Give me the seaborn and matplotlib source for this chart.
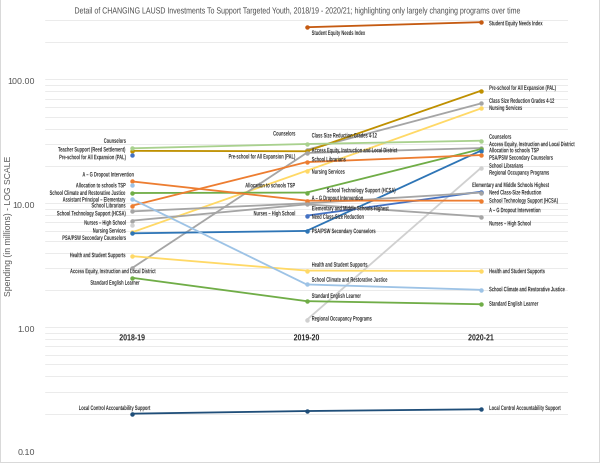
import numpy as np
import pandas as pd
import seaborn as sns
import matplotlib
matplotlib.use("Agg")
import matplotlib.pyplot as plt
from matplotlib.patheffects import AbstractPathEffect
from matplotlib.transforms import Affine2D
from matplotlib.ticker import LogLocator, FormatStrFormatter, NullFormatter

nan = np.nan
years = ["2018-19", "2019-20", "2020-21"]

# spending in $ millions
seni = [nan, 264, 290]
class_size = [nan, 27.0, 64.0]
pal = [26.5, 26.3, 81.0]
nursing = [5.83, 18.3, 58.3]
counselors = [27.8, 30.1, 32.0]
access_equity = [3.0, 25.5, 27.9]
tsp = [12.1, 12.2, 27.4]
psa_psw = [5.72, 5.98, 26.6]
librarians = [9.57, 21.5, 24.5]
rop = [nan, 1.14, 19.3]
elem_class_size = [nan, 7.94, 12.4]
tech_support = [8.6, 10.0, 12.2]
a_g = [15.0, 10.5, 10.5]
nurses_hs = [7.24, 9.8, 7.8]
health = [3.74, 2.86, 2.83]
climate = [10.8, 2.21, 2.0]
sel = [2.50, 1.62, 1.53]
lcas = [0.20, 0.21, 0.217]
teacher_support = [24.5, nan, nan]
tsp_dot = [14.1, nan, nan]
nurses_dot = [6.72, nan, nan]

series = {
    "Student Equity Needs Index": seni,
    "Class Size Reduction Grades 4-12": class_size,
    "Pre-school for All Expansion (PAL)": pal,
    "Nursing Services": nursing,
    "Counselors": counselors,
    "Access Equity, Instruction and Local District": access_equity,
    "Allocation to schools TSP": tsp,
    "PSA/PSW Secondary Counselors": psa_psw,
    "School Librarians": librarians,
    "Regional Occupancy Programs": rop,
    "Elementary and Middle Schools Highest Need Class-Size Reduction": elem_class_size,
    "School Technology Support (HCSA)": tech_support,
    "A – G Dropout Intervention": a_g,
    "Nurses – High School": nurses_hs,
    "Health and Student Supports": health,
    "School Climate and Restorative Justice": climate,
    "Standard English Learner": sel,
    "Local Control Accountability Support": lcas,
    "Teacher Support (Reed Settlement)": teacher_support,
    "TSP dot": tsp_dot,
    "Nurses dot": nurses_dot,
}

colors = {
    "Student Equity Needs Index": "#C55A11",
    "Class Size Reduction Grades 4-12": "#A5A5A5",
    "Pre-school for All Expansion (PAL)": "#BF9000",
    "Nursing Services": "#FFD966",
    "Counselors": "#A9D18E",
    "Access Equity, Instruction and Local District": "#A5A5A5",
    "Allocation to schools TSP": "#70AD47",
    "PSA/PSW Secondary Counselors": "#2E75B6",
    "School Librarians": "#ED7D31",
    "Regional Occupancy Programs": "#D0D0D0",
    "Elementary and Middle Schools Highest Need Class-Size Reduction": "#4472C4",
    "School Technology Support (HCSA)": "#A5A5A5",
    "A – G Dropout Intervention": "#ED7D31",
    "Nurses – High School": "#A5A5A5",
    "Health and Student Supports": "#FFD966",
    "School Climate and Restorative Justice": "#9DC3E6",
    "Standard English Learner": "#70AD47",
    "Local Control Accountability Support": "#1F4E79",
    "Teacher Support (Reed Settlement)": "#4472C4",
    "TSP dot": "#9DC3E6",
    "Nurses dot": "#D0D0D0",
}

# data labels per year column: (text, value where the label sits)
labels_1819 = [
    ("Counselors", 31.6), ("Teacher Support (Reed Settlement)", 26.9),
    ("Pre-school for All Expansion (PAL)", 23.3), ("A – G Dropout Intervention", 16.9),
    ("Allocation to schools TSP", 13.8), ("School Climate and Restorative Justice", 12.0),
    ("Assistant Principal – Elementary", 10.6), ("School Librarians", 9.5),
    ("School Technology Support (HCSA)", 8.2), ("Nurses – High School", 6.9),
    ("Nursing Services", 5.95), ("PSA/PSW Secondary Counselors", 5.2),
    ("Health and Student Supports", 3.77),
    ("Access Equity, Instruction and Local District", 2.8),
    ("Standard English Learner", 2.26), ("Local Control Accountability Support", 0.22),
]
labels_1920_left = [
    ("Counselors", 36.2), ("Pre-school for All Expansion (PAL)", 23.6),
    ("Allocation to schools TSP", 13.8), ("Nurses – High School", 8.2),
]
labels_1920_right = [
    ("Student Equity Needs Index", 235), ("Class Size Reduction Grades 4-12", 34.9),
    ("Access Equity, Instruction and Local District", 26.5), ("School Librarians", 22.4),
    ("Nursing Services", 17.8), ("School Technology Support (HCSA)", 12.6),
    ("A – G Dropout Intervention", 10.9), ("Elementary and Middle Schools Highest", 9.0),
    ("Need Class-Size Reduction", 7.7), ("PSA/PSW Secondary Counselors", 5.9),
    ("Health and Student Supports", 3.16), ("School Climate and Restorative Justice", 2.39),
    ("Standard English Learner", 1.77), ("Regional Occupancy Programs", 1.16),
]
labels_2021 = [
    ("Student Equity Needs Index", 281), ("Pre-school for All Expansion (PAL)", 84.6),
    ("Class Size Reduction Grades 4-12", 66.5), ("Nursing Services", 58.3),
    ("Counselors", 34.1), ("Access Equity, Instruction and Local District", 29.7),
    ("Allocation to schools TSP", 26.5), ("PSA/PSW Secondary Counselors", 23.1),
    ("School Librarians", 19.9), ("Regional Occupancy Programs", 17.5),
    ("Elementary and Middle Schools Highest", 13.9), ("Need Class-Size Reduction", 12.1),
    ("School Technology Support (HCSA)", 10.4), ("A – G Dropout Intervention", 8.7),
    ("Nurses – High School", 6.8), ("Health and Student Supports", 2.8),
    ("School Climate and Restorative Justice", 2.0), ("Standard English Learner", 1.53),
    ("Local Control Accountability Support", 0.22),
]

rows = []
for name, vals in series.items():
    for i, v in enumerate(vals):
        if not np.isnan(v):
            rows.append({"program": name, "year": i, "spending": v})
df = pd.DataFrame(rows)


class Squeeze(AbstractPathEffect):
    """Draw text glyphs narrower (the original uses a condensed face)."""

    def __init__(self, sx, anchor="left"):
        super().__init__()
        self.sx = sx
        self.anchor = anchor

    def draw_path(self, renderer, gc, tpath, affine, rgbFace=None):
        ext = tpath.get_extents(affine)
        px = {"left": ext.x0, "right": ext.x1, "center": 0.5 * (ext.x0 + ext.x1)}[self.anchor]
        sq = Affine2D().translate(-px, 0).scale(self.sx, 1).translate(px, 0)
        renderer.draw_path(gc, tpath, affine + sq, rgbFace)


sns.set_style("white")
plt.rcParams["font.family"] = ["Liberation Sans", "DejaVu Sans"]

fig = plt.figure(figsize=(6, 4.64), dpi=100)
fig.patch.set_edgecolor("#D9D9D9")
fig.patch.set_linewidth(1.2)
ax = fig.add_axes([0.075, 0.026, 0.872, 0.928])

sns.lineplot(data=df, x="year", y="spending", hue="program", palette=colors,
             hue_order=list(series.keys()), marker="o", markersize=3.2,
             markeredgewidth=0, linewidth=1.3, sort=False, legend=False, ax=ax)

ax.set_yscale("log")
ax.set_ylim(0.1, 300)
ax.set_xlim(-0.5, 2.5)
for side in ["left", "right", "top"]:
    ax.spines[side].set_visible(False)
ax.spines["bottom"].set_position(("data", 1))
ax.spines["bottom"].set_color("none")

ax.yaxis.set_major_locator(LogLocator(base=10, numticks=10))
ax.yaxis.set_minor_locator(LogLocator(base=10, subs=np.arange(2, 10), numticks=20))
ax.yaxis.set_major_formatter(FormatStrFormatter("%.2f"))
ax.yaxis.set_minor_formatter(NullFormatter())
ax.grid(which="both", axis="y", color="#EBEBEB", linewidth=0.7)
ax.grid(False, axis="x")
ax.set_axisbelow(True)
ax.xaxis.set_zorder(1)  # year labels above the grid, below the lines
ax.tick_params(axis="y", which="both", length=0, labelsize=6.4, labelcolor="#595959", pad=7)

ax.set_xticks([0, 1, 2], years)
ax.tick_params(axis="x", length=0, pad=4.5, labelsize=6.3, labelcolor="#262626")
for lab in ax.get_xticklabels():
    lab.set_fontweight("bold")
    lab.set_path_effects([Squeeze(0.8, "center")])
ax.set_xlabel("")
ax.set_ylabel("")
fig.text(9 / 600, 1 - 226 / 464, "Spending (in millions) - LOG SCALE", rotation=90,
         ha="center", va="center", color="#595959", fontsize=6.2)

fig.text(0.5, 1 - 12 / 464, "Detail of CHANGING LAUSD Investments To Support Targeted Youth, "
         "2018/19 - 2020/21; highlighting only largely changing programs over time",
         ha="center", va="center", color="#4D4D4D", fontsize=6.4,
         path_effects=[Squeeze(0.79, "center")])

lab_kw = dict(textcoords="offset pixels", fontsize=4.7, fontweight="bold",
              color="#303030", va="center")
nudge_1819 = {"A – G Dropout Intervention": 8, "Access Equity, Instruction and Local District": 30,
              "Standard English Learner": 14, "Local Control Accountability Support": 25}
for text, v in labels_1819:
    ax.annotate(text, (0, v), xytext=(-6 + nudge_1819.get(text, 0), 0), ha="right",
                path_effects=[Squeeze(0.62, "right")], **lab_kw)
for text, v in labels_1920_left:
    ax.annotate(text, (1, v), xytext=(-11, 0), ha="right",
                path_effects=[Squeeze(0.62, "right")], **lab_kw)
for text, v in labels_1920_right:
    dx = 20 if text == "School Technology Support (HCSA)" else 5
    ax.annotate(text, (1, v), xytext=(dx, 0), ha="left",
                path_effects=[Squeeze(0.62, "left")], **lab_kw)
for text, v in labels_2021:
    dx = -9 if text == "Elementary and Middle Schools Highest" else 8
    ax.annotate(text, (2, v), xytext=(dx, 0), ha="left",
                path_effects=[Squeeze(0.62, "left")], **lab_kw)

fig.savefig("out.png", dpi=100, edgecolor=fig.get_edgecolor())
